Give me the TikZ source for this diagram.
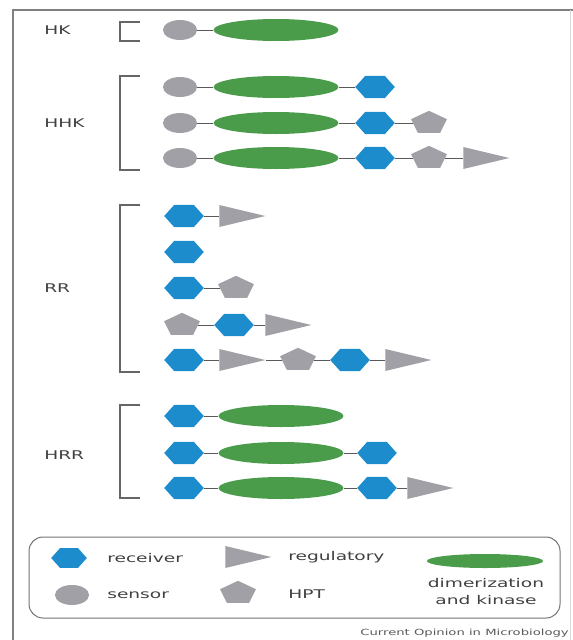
\documentclass[tikz,border=0pt]{standalone}
\usepackage{fontspec}
\setmainfont{DejaVu Sans}
\usetikzlibrary{shapes.geometric}
\definecolor{recblue}{RGB}{28,140,204}
\definecolor{kingreen}{RGB}{74,156,74}
\definecolor{domgray}{RGB}{160,160,166}

\begin{document}
\begin{tikzpicture}[
    x=0.64516pt, y=-1pt, xscale=1.55, transform shape,
    sens/.style={ellipse, fill=domgray, inner sep=0pt, minimum width=22pt, minimum height=20pt},
    dimk/.style={ellipse, fill=kingreen, inner sep=0pt, minimum width=80.6pt, minimum height=22pt},
    recv/.style={regular polygon, regular polygon sides=6, fill=recblue, inner sep=0pt, minimum size=25.5pt},
    hpt/.style={regular polygon, regular polygon sides=5, fill=domgray, inner sep=0pt, minimum size=24.4pt},
    regl/.style={isosceles triangle, isosceles triangle stretches, fill=domgray, inner sep=0pt, minimum width=22pt, minimum height=29.7pt, anchor=west},
    link/.style={draw=black!65, line width=0.7pt},
    brk/.style={draw=black!60, line width=1.1pt},
    frm/.style={draw=black!50, line width=1.3pt},
    lbl/.style={font=\fontsize{12}{17}\selectfont, text=black!75, inner sep=0pt, anchor=west}
]
\useasboundingbox (0,0) rectangle (573,640);
\draw[frm] (573,10) -- (13,10) -- (13,640);
\draw[draw=black!15, line width=0.8pt] (570,10) -- (570,640);

% HK
\node[lbl] (hk) at (44,30) {HK};
\draw[brk] (140,22) -- (120,22) -- (120,41) -- (140,41);
\node[sens] (s0) at (180,30) {};
\node[dimk] (d0) at (276,30) {};
\draw[link] (s0) -- (d0);

% HHK
\node[lbl] (hhk) at (44,123) {HHK};
\draw[brk] (140,76) -- (120,76) -- (120,170) -- (140,170);
\node[sens] (s1) at (180,87) {};
\node[dimk] (d1) at (276,87) {};
\node[recv] (r1) at (375,87) {};
\draw[link] (s1) -- (d1) -- (r1);
\node[sens] (s2) at (180,123) {};
\node[dimk] (d2) at (276,123) {};
\node[recv] (r2) at (375,123) {};
\node[hpt] (p2) at (429,123) {};
\draw[link] (s2) -- (d2) -- (r2) -- (p2);
\node[sens] (s3) at (180,158) {};
\node[dimk] (d3) at (276,158) {};
\node[recv] (r3) at (375,158) {};
\node[hpt] (p3) at (429,158) {};
\node[regl] (t3) at (463,158) {};
\draw[link] (s3) -- (d3) -- (r3) -- (p3) -- (t3);

% RR
\node[lbl] (rr) at (44,288) {RR};
\draw[brk] (140,205) -- (120,205) -- (120,372) -- (140,372);
\node[recv] (r4) at (184,216) {};
\node[regl] (t4) at (219,216) {};
\draw[link] (r4) -- (t4);
\node[recv] (r5) at (184,252) {};
\node[recv] (r6) at (184,288) {};
\node[hpt] (p6) at (236,288) {};
\draw[link] (r6) -- (p6);
\node[hpt] (p7) at (182,325) {};
\node[recv] (r7) at (234,325) {};
\node[regl] (t7) at (265,325) {};
\draw[link] (p7) -- (r7) -- (t7);
\node[recv] (r8) at (184,360) {};
\node[regl] (t8) at (219,360) {};
\node[hpt] (p8) at (298,360) {};
\node[recv] (r9) at (350,360) {};
\node[regl] (t9) at (385,360) {};
\draw[link] (r8) -- (t8) -- (p8) -- (r9) -- (t9);

% HRR
\node[lbl] (hrr) at (44,455) {HRR};
\draw[brk] (140,405) -- (120,405) -- (120,498) -- (140,498);
\node[recv] (r10) at (184,416) {};
\node[dimk] (d10) at (281,416) {};
\draw[link] (r10) -- (d10);
\node[recv] (r11) at (184,453) {};
\node[dimk] (d11) at (281,453) {};
\node[recv] (r12) at (377,453) {};
\draw[link] (r11) -- (d11) -- (r12);
\node[recv] (r13) at (184,488) {};
\node[dimk] (d13) at (281,488) {};
\node[recv] (r14) at (377,488) {};
\node[regl] (t14) at (407,488) {};
\draw[link] (r13) -- (d13) -- (r14) -- (t14);

% key
\draw[draw=black!55, line width=1pt, rounded corners=14pt] (29,537) rectangle (560,618);
\node[recv, minimum size=23pt] (kr) at (69,558) {};
\node[lbl] (krt) at (107,558) {receiver};
\node[regl] (kt) at (225,557) {};
\node[lbl] (ktt) at (288,557) {regulatory};
\node[dimk, minimum width=75pt, minimum height=14pt] (kd) at (485,561) {};
\node[sens] (ks) at (72,595) {};
\node[lbl] (kst) at (107,595) {sensor};
\node[hpt] (kp) at (238,593) {};
\node[lbl] (kpt) at (288,594) {HPT};
\node[lbl, anchor=center, align=center] (kdt) at (486,592) {dimerization\\and kinase};

\node[font=\fontsize{8.5}{10}\selectfont, text=black!65, inner sep=0pt, anchor=east] (src) at (569,633) {Current Opinion in Microbiology};
\end{tikzpicture}
\end{document}
